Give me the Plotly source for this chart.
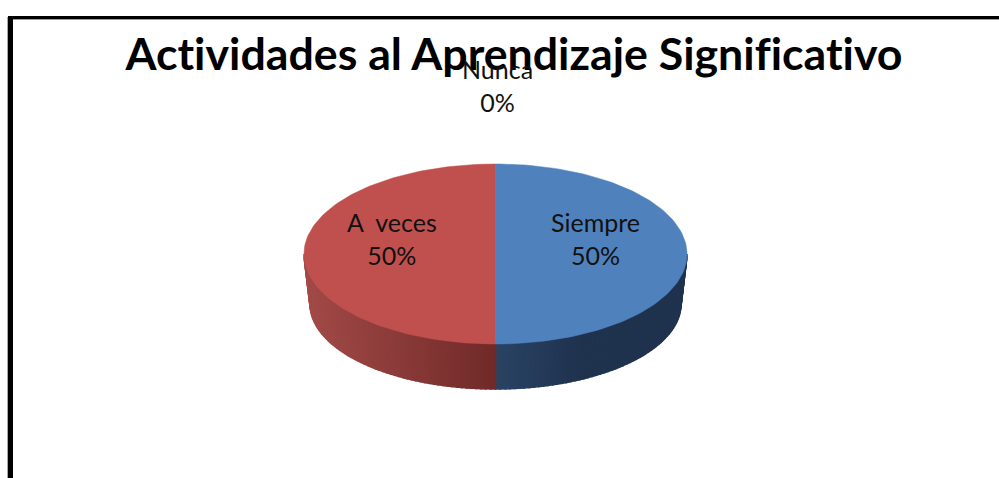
"""Actividades al Aprendizaje Significativo: tilted pie drawn on pixel axes."""

import numpy as np
import plotly.graph_objects as go

CATEGORIES = ["Siempre", "A  veces", "Nunca"]
VALUES = [50, 50, 0]
TOP_COLORS = ["#4F81BD", "#C0504D", "#9BBB59"]
# wall shade at the centre line and at the outer edge of each slice
WALL_INNER = [(42, 68, 100), (112, 42, 40), (90, 110, 50)]
WALL_OUTER = [(31, 50, 78), (162, 74, 72), (90, 110, 50)]
WALL_REACH = [0.45, 1.0, 1.0]

TITLE = "Actividades al Aprendizaje Significativo"
FONT = "Lato, Carlito, Calibri, sans-serif"

CX, CY, RX, RY = 495.5, 254, 191.5, 90
BOTTOM_CY, BOTTOM_RX, BOTTOM_RY = 304, 185.5, 85


def ellipse(angle, cy=CY, rx=RX, ry=RY):
    """Angle in radians, clockwise from twelve o'clock."""
    return CX + rx * np.sin(angle), cy - ry * np.cos(angle)


def mix(a, b, t):
    return "rgb({},{},{})".format(*[round(p + (q - p) * t) for p, q in zip(a, b)])


fig = go.Figure()

total = sum(VALUES)
edges = np.cumsum([0] + VALUES) / total * 2 * np.pi

# side wall: thin strips along the front half of the rim
for i, (start, end) in enumerate(zip(edges[:-1], edges[1:])):
    lo, hi = max(start, np.pi / 2), min(end, 3 * np.pi / 2)
    if hi <= lo:
        continue
    steps = np.linspace(lo, hi, 61)
    for a, b in zip(steps[:-1], steps[1:]):
        mid = (a + b) / 2
        t = min(1, abs(np.sin(mid)) / WALL_REACH[i])
        color = mix(WALL_INNER[i], WALL_OUTER[i], t)
        tx, ty = ellipse(np.array([a, b]))
        bx, by = ellipse(np.array([b, a]), BOTTOM_CY, BOTTOM_RX, BOTTOM_RY)
        fig.add_trace(go.Scatter(
            x=[*tx, *bx, tx[0]], y=[*ty, *by, ty[0]], mode="lines", fill="toself",
            fillcolor=color, line=dict(color=color, width=1.5), hoverinfo="skip",
        ))

# top face
for i, (start, end) in enumerate(zip(edges[:-1], edges[1:])):
    if end <= start:
        continue
    x, y = ellipse(np.linspace(start, end, 121))
    fig.add_trace(go.Scatter(
        x=[CX, *x, CX], y=[CY, *y, CY], mode="lines", fill="toself",
        fillcolor=TOP_COLORS[i], line=dict(color=TOP_COLORS[i], width=0.5),
        name=CATEGORIES[i],
    ))

label_xy = [(595, 238), (392, 238), (497, 85)]
annotations = [
    dict(x=x, y=y, text=f"{name}<br>{v / total:.0%}", showarrow=False,
         font=dict(family=FONT, size=25, color="#111111"))
    for name, v, (x, y) in zip(CATEGORIES, VALUES, label_xy)
]

fig.update_layout(
    width=999, height=478,
    margin=dict(l=0, r=0, t=0, b=0),
    paper_bgcolor="white", plot_bgcolor="white",
    showlegend=False,
    xaxis=dict(range=[0, 999], visible=False, fixedrange=True),
    yaxis=dict(range=[478, 0], visible=False, fixedrange=True),
    title=dict(text=f"<b>{TITLE}</b>", x=514 / 999, y=1 - 54 / 478,
               xanchor="center", yanchor="middle",
               font=dict(family=FONT, size=44.7, color="black")),
    annotations=annotations,
    shapes=[
        dict(type="line", xref="x", yref="y", x0=7.5, x1=7.5, y0=17, y1=478,
             line=dict(color="#aaaaaa", width=1)),
        dict(type="line", xref="x", yref="y", x0=8, x1=999, y0=19.5, y1=19.5,
             line=dict(color="#999999", width=1)),
        dict(type="line", xref="x", yref="y", x0=10.5, x1=10.5, y0=16, y1=478,
             line=dict(color="black", width=5)),
        dict(type="line", xref="x", yref="y", x0=8, x1=999, y0=17.5, y1=17.5,
             line=dict(color="black", width=3)),
    ],
)

# the page's default body margin would push the figure 8px in
fig.write_html(
    "out.html",
    config=dict(displayModeBar=False),
    post_script="document.body.style.margin='0';"
                "document.body.style.overflow='hidden';"
                "var s=document.createElement('style');"
                "s.textContent='text{font-variant-ligatures:none !important}';"
                "document.head.appendChild(s);",
)
